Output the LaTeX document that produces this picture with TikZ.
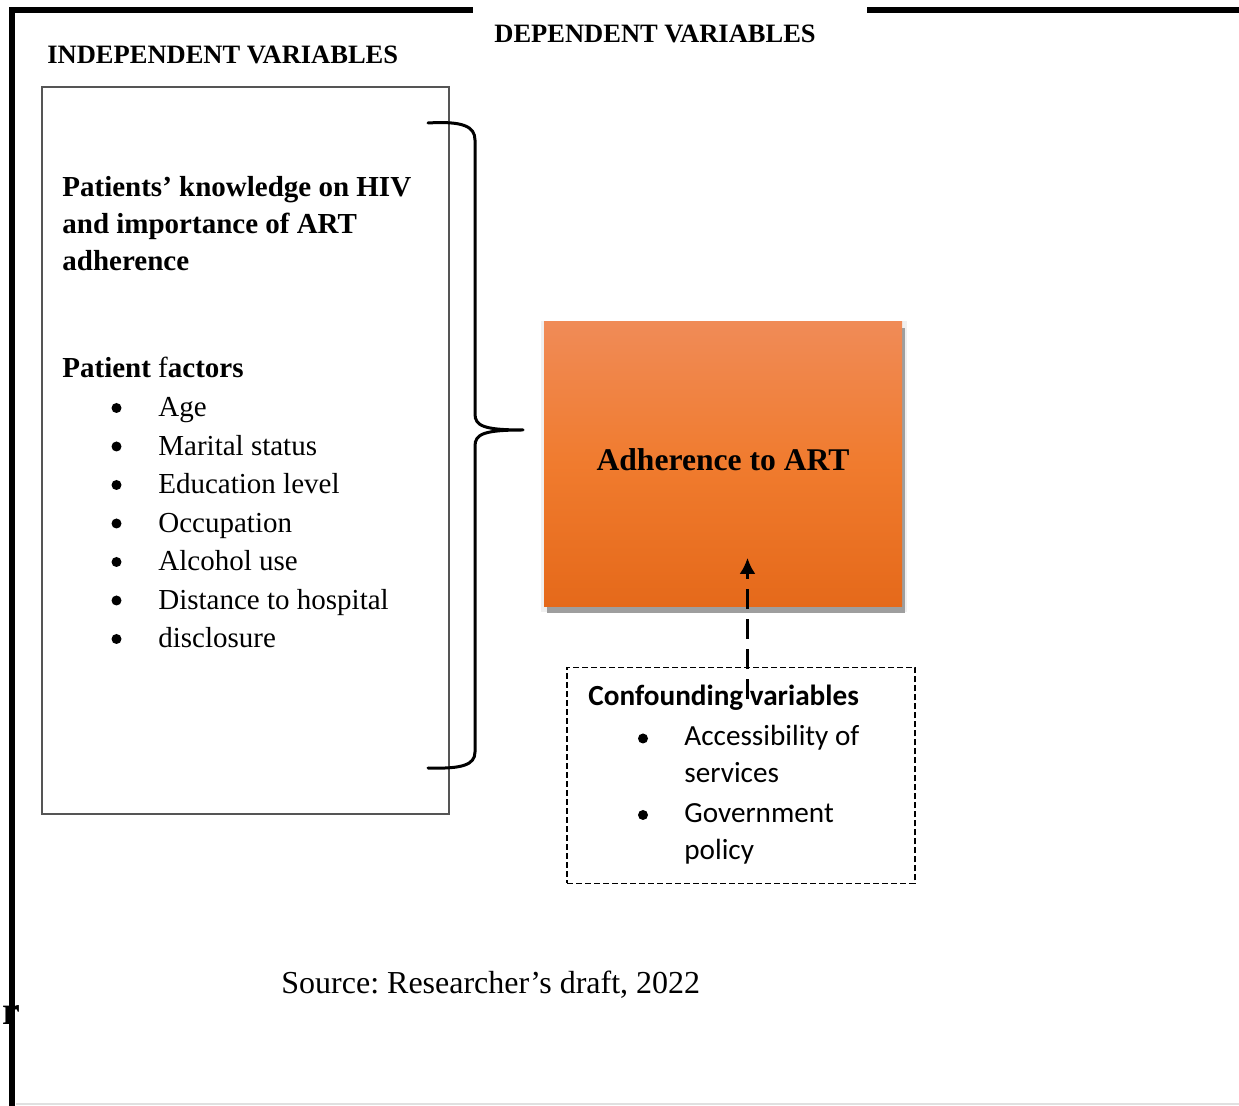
\documentclass[tikz,border=0pt]{standalone}
\usepackage{fontspec}
\setmainfont{Liberation Serif}
\newfontfamily\calib{Carlito}
\frenchspacing
\usetikzlibrary{shadows,arrows.meta}
\definecolor{ortop}{HTML}{F08B57}
\definecolor{ormid}{HTML}{F07B2E}
\definecolor{orbot}{HTML}{E5691A}
\definecolor{boxgray}{HTML}{555555}
\begin{document}
\begin{tikzpicture}[x=0.5pt,y=-0.5pt,
  headtxt/.style={font=\bfseries\fontsize{13.25}{15}\selectfont, anchor=base west, inner sep=0pt},
  bodytxt/.style={font=\fontsize{14.5}{17}\selectfont, anchor=base west, inner sep=0pt},
  boldtxt/.style={font=\bfseries\fontsize{14.5}{17}\selectfont, anchor=base west, inner sep=0pt},
  bul/.style={circle, fill=black, inner sep=0pt, minimum size=5pt},
  calbody/.style={font=\calib\fontsize{14.6}{17}\selectfont, anchor=base west, inner sep=0pt},
  frameline/.style={line width=3pt, black},
  adhbox/.style={minimum width=179pt, minimum height=142.5pt, inner sep=0pt,
     top color=ortop, bottom color=orbot, middle color=ormid,
     drop shadow={shadow xshift=0.5pt, shadow yshift=-1pt, shadow scale=1.02, fill=black!6, opacity=1},
     drop shadow={shadow xshift=1.5pt, shadow yshift=-3pt, fill=black!38, opacity=1}},
  indepbox/.style={draw=boxgray, line width=0.6pt, minimum width=203.5pt, minimum height=363.5pt, inner sep=0pt},
  confbox/.style={draw=black, line width=0.9pt, dash pattern=on 3pt off 1.5pt, minimum width=174pt, minimum height=108pt, inner sep=0pt},
  bracestyle/.style={line width=1.5pt, black, line cap=round},
  arr/.style={line width=1.2pt, black, dash pattern=on 10pt off 5pt, -{Latex[length=8pt,width=8pt]}}
]
\useasboundingbox (0,0) rectangle (1239,1106);
% faint bottom edge
\draw[black!12, line width=0.6pt] (16,1104) -- (1239,1104);

% headings
\node[headtxt] (indephead) at (47,64) {INDEPENDENT VARIABLES};
\node[headtxt] (dephead) at (494,43) {DEPENDENT VARIABLES};

% independent box
\node[indepbox] (indep) at (245.5,450.5) {};
\node[boldtxt] (know1) at (62,197) {Patients’ knowledge on HIV};
\node[boldtxt] (know2) at (62,234) {and importance of ART};
\node[boldtxt] (know3) at (62,271) {adherence};
\node[boldtxt] (pf) at (62,378) {Patient \mdseries f\bfseries actors};
\foreach \t [count=\i] in {Age, Marital status, Education level, Occupation, Alcohol use, Distance to hospital, disclosure} {
  \node[bul] (b\i) at (116.5,{408+38.5*(\i-1)}) {};
  \node[bodytxt] (it\i) at (158,{417+38.5*(\i-1)}) {\t};
}

% brace
\draw[bracestyle] (428,123) .. controls (462,121) and (475,126) .. (475,140)
  -- (475,414) .. controls (475,426) and (484,430) .. (523,430)
  (523,430) .. controls (484,430) and (475,434) .. (475,446)
  -- (475,752) .. controls (475,765) and (462,769) .. (428,768);

% dependent box
\node[adhbox] (adh) at (723,464.5) {};
\node[font=\bfseries\fontsize{15.8}{18}\selectfont, anchor=base, inner sep=0pt] (adhlabel) at (723,471) {Adherence to ART};

% confounding box
\node[confbox] (conf) at (741,775.5) {};
\node[calbody, font=\calib\bfseries\fontsize{14.6}{17}\selectfont] (confhead) at (588,706) {Confounding variables};
\node[bul] (cb1) at (643,738.5) {};
\node[calbody] (c1a) at (684,746) {Accessibility of};
\node[calbody] (c1b) at (684,783) {services};
\node[bul] (cb2) at (643,815) {};
\node[calbody] (c2a) at (684,823) {Government};
\node[calbody] (c2b) at (684,860) {policy};

% arrow
\coordinate (atail) at (747.5,699);
\coordinate (ahead) at (747.5,558);
\draw[arr] (atail) -- (ahead);

% source
\node[bodytxt, font=\fontsize{16}{19}\selectfont] (source) at (281,994) {Source: Researcher’s draft, 2022};
\node[font=\bfseries\fontsize{20}{22}\selectfont, anchor=base west, inner sep=0pt] (rr) at (2,1025) {r};

% frame
\draw[frameline] (12.3,8) -- (12.3,1106);
\draw[frameline] (9.3,10.5) -- (473,10.5);
\draw[frameline] (867,10.5) -- (1239,10.5);
\end{tikzpicture}
\end{document}
